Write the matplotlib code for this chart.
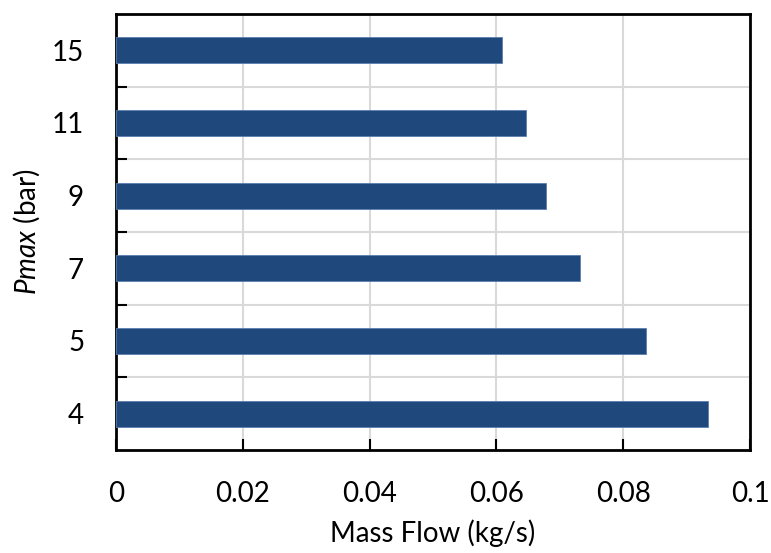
import matplotlib
matplotlib.use("Agg")
import matplotlib.pyplot as plt
import numpy as np

# Data
pmax_labels = ["4", "5", "7", "9", "11", "15"]
mass_flow = [0.0934, 0.0836, 0.0732, 0.0678, 0.0647, 0.0609]

plt.rcParams["font.family"] = ["Lato", "DejaVu Sans"]
plt.rcParams["mathtext.fontset"] = "custom"
plt.rcParams["mathtext.it"] = "Lato:italic"
plt.rcParams["mathtext.rm"] = "Lato"

fig = plt.figure(figsize=(7.71, 5.53), dpi=100)
ax = fig.add_axes([0.1505, 0.1863, 0.9728 - 0.1505, 0.9747 - 0.1863])

y = np.arange(len(pmax_labels))
ax.barh(y, mass_flow, height=0.36, color="#1F497D", edgecolor="#5B7FAE",
        linewidth=0.6, zorder=3)

ax.set_xlim(0, 0.1)
ax.set_ylim(-0.5, len(pmax_labels) - 0.5)

ax.set_xticks([0, 0.02, 0.04, 0.06, 0.08, 0.1])
ax.set_xticklabels(["0", "0.02", "0.04", "0.06", "0.08", "0.1"])
ax.set_yticks(y)
ax.set_yticklabels(pmax_labels)
ax.set_yticks(np.arange(0.5, len(pmax_labels) - 0.5, 1), minor=True)

ax.tick_params(axis="x", which="major", direction="in", length=8, width=1.5,
               labelsize=20, pad=22, colors="black")
ax.tick_params(axis="y", which="major", length=0, labelsize=20, pad=23)
ax.tick_params(axis="y", which="minor", direction="in", length=8, width=1.5)

ax.grid(axis="x", which="major", color="#D9D9D9", linewidth=1.5, zorder=0)
ax.grid(axis="y", which="minor", color="#D9D9D9", linewidth=1.5, zorder=0)

for s in ax.spines.values():
    s.set_linewidth(2)
    s.set_color("black")

ax.set_xlabel("Mass Flow (kg/s)", fontsize=20, labelpad=9)
ax.set_ylabel(r"$\it{Pmax}$ (bar)", fontsize=20)
ax.yaxis.set_label_coords(-0.117, 0.5)

fig.savefig("out.png", dpi=100)
